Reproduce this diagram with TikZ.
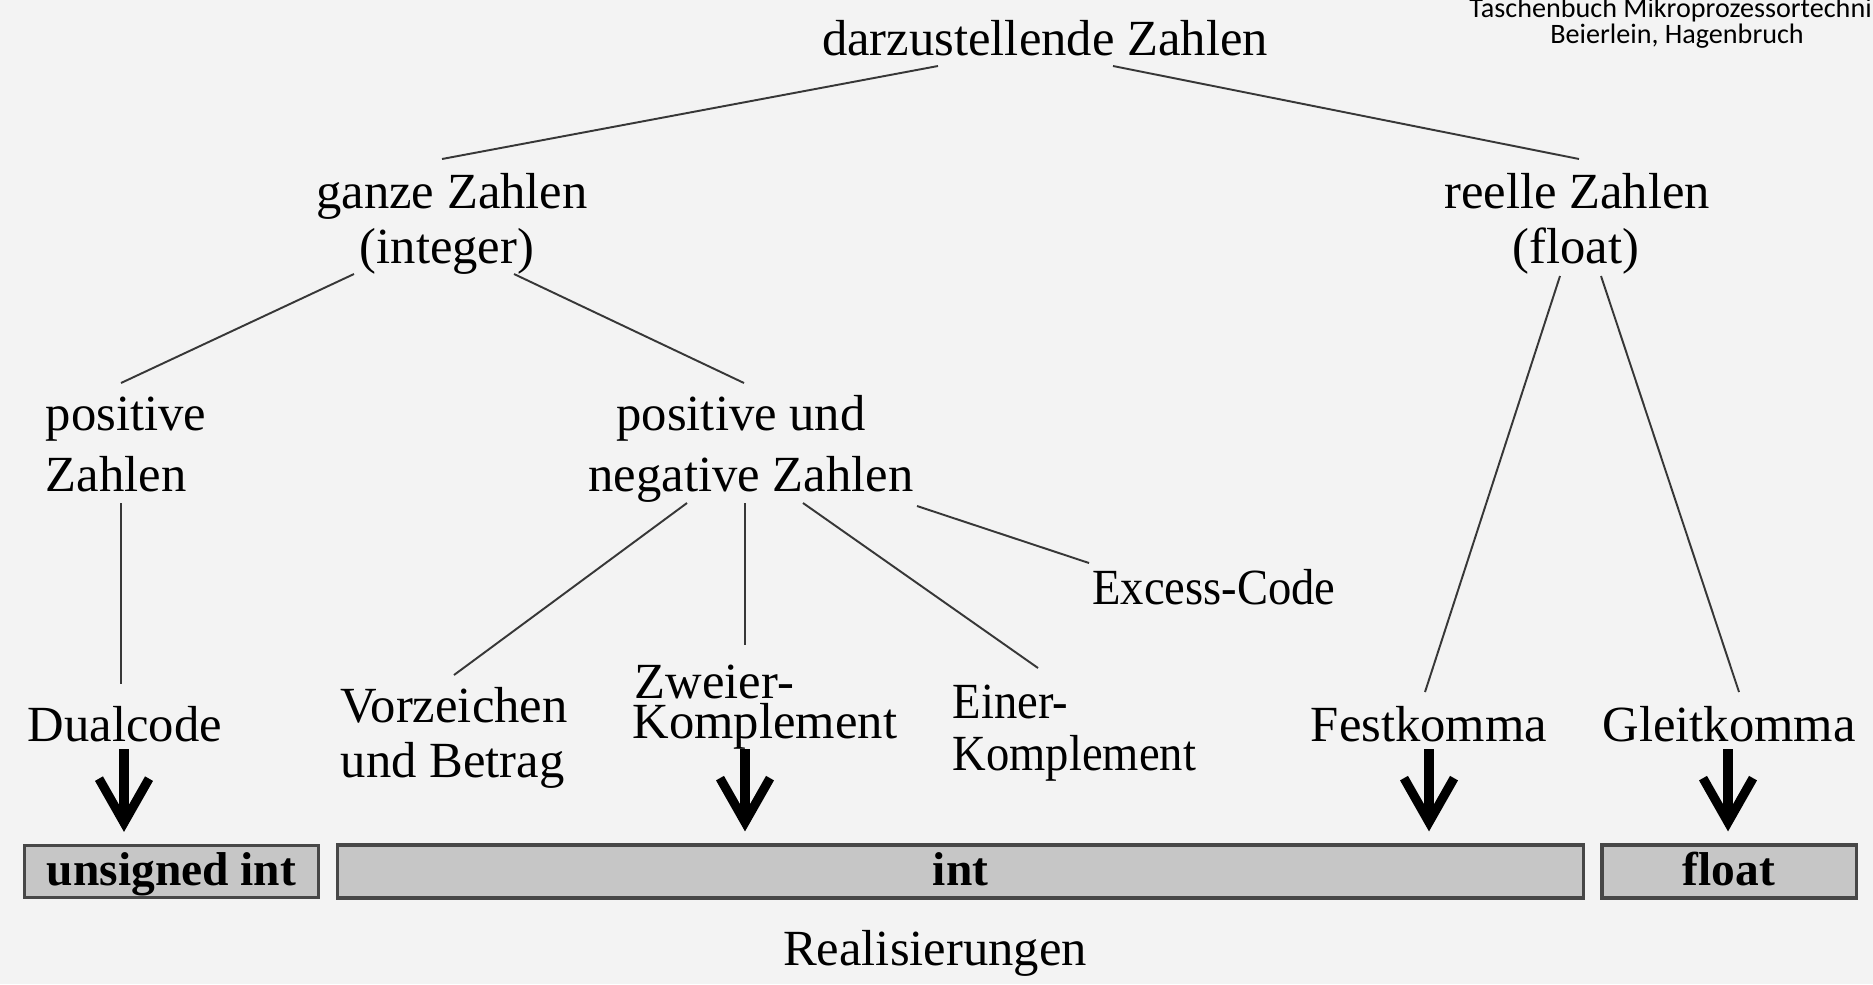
\documentclass[tikz,border=0pt]{standalone}
\usepackage{fontspec}
\setmainfont{Liberation Serif}
\newfontfamily\narrowfont[FakeStretch=0.92]{Liberation Serif}
\newfontfamily\notefont{Carlito}
\usetikzlibrary{arrows.meta}
\definecolor{bgc}{RGB}{243,243,243}
\definecolor{barfill}{RGB}{198,198,198}
\definecolor{linec}{RGB}{55,55,55}
\begin{document}
\begin{tikzpicture}[x=0.01cm,y=-0.01cm,
  lbl/.style={inner sep=0pt, font=\fontsize{14.4}{17}\selectfont, anchor=base},
  lbll/.style={lbl, anchor=base west},
  nlbl/.style={lbl, font=\narrowfont\fontsize{14.4}{17}\selectfont},
  nlbll/.style={nlbl, anchor=base west},
  conn/.style={draw=linec, line width=0.55pt},
  bigarrow/.style={line width=2.6pt, -{Straight Barb[length=4.4mm,width=5mm]}},
  barbox/.style={draw=black!72, line width=0.9pt, fill=barfill, inner sep=0pt,
    text height=0.95em, text depth=0.15em, font=\bfseries\fontsize{13.5}{16}\selectfont},
  note/.style={inner sep=0pt, anchor=base, font=\notefont\fontsize{8}{9}\selectfont}]
\fill[bgc] (0,0) rectangle (1873,984);
\clip (0,0) rectangle (1873,984);
% source note
\node[note] (n1) at (1677,17) {Taschenbuch Mikroprozessortechnik};
\node[note] (n2) at (1677,43) {Beierlein, Hagenbruch};
% texts
\node[lbl] (top) at (1045,55) {darzustellende Zahlen};
\node[lbl] (ganze1) at (452,208) {ganze Zahlen};
\node[lbl] (ganze2) at (447,263) {(integer)};
\node[lbl] (reell1) at (1577,208) {reelle Zahlen};
\node[lbl] (reell2) at (1576,263) {(float)};
\node[lbll] (pos1) at (45,430) {positive};
\node[lbll] (pos2) at (45,491) {Zahlen};
\node[lbl] (pn1) at (741,430) {positive und};
\node[lbl] (pn2) at (751,491) {negative Zahlen};
\node[nlbl] (exc) at (1214,604) {Excess-Code};
\node[lbl] (dual) at (125,741) {Dualcode};
\node[lbll] (vz1) at (340,722) {Vorzeichen};
\node[lbll] (vz2) at (340,777) {und Betrag};
\node[lbll] (zw1) at (634,698) {Zweier-};
\node[lbll] (zw2) at (632,738) {Komplement};
\node[nlbll] (ei1) at (952,718) {Einer-};
\node[nlbll] (ei2) at (952,770) {Komplement};
\node[lbl] (fest) at (1429,741) {Festkomma};
\node[lbl] (gleit) at (1729,741) {Gleitkomma};
\node[lbl] (real) at (935,965) {Realisierungen};
% bars
\node[barbox, minimum width=2.93cm, minimum height=0.52cm] (barU) at (171.5,871.5) {unsigned int};
\node[barbox, minimum width=12.45cm, minimum height=0.53cm] (barI) at (960.5,871.5) {int};
\node[barbox, minimum width=2.54cm, minimum height=0.53cm] (barF) at (1729,871.5) {float};
% connector end points
\coordinate (t-l) at (938,66);   \coordinate (g-t) at (442,159);
\coordinate (t-r) at (1113,66);  \coordinate (r-t) at (1579,159);
\coordinate (g-l) at (354,274);  \coordinate (p-t) at (121,383);
\coordinate (g-r) at (514,274);  \coordinate (pn-t) at (744,383);
\coordinate (r-l) at (1560,276); \coordinate (f-t) at (1425,692);
\coordinate (r-r) at (1601,276); \coordinate (gl-t) at (1739,692);
\coordinate (p-b) at (121,503);  \coordinate (d-t) at (121,684);
\coordinate (pn-a) at (687,503); \coordinate (vz-t) at (454,675);
\coordinate (pn-b) at (745,503); \coordinate (zw-t) at (745,645);
\coordinate (pn-c) at (803,503); \coordinate (ei-t) at (1038,668);
\coordinate (pn-d) at (917,506); \coordinate (ex-t) at (1089,563);
\draw[conn] (t-l) -- (g-t);
\draw[conn] (t-r) -- (r-t);
\draw[conn] (g-l) -- (p-t);
\draw[conn] (g-r) -- (pn-t);
\draw[conn] (r-l) -- (f-t);
\draw[conn] (r-r) -- (gl-t);
\draw[conn] (p-b) -- (d-t);
\draw[conn] (pn-a) -- (vz-t);
\draw[conn] (pn-b) -- (zw-t);
\draw[conn] (pn-c) -- (ei-t);
\draw[conn] (pn-d) -- (ex-t);
% arrows
\coordinate (dA) at (124,749);
\coordinate (zA) at (745,749);
\coordinate (fA) at (1429,749);
\coordinate (gA) at (1728,749);
\draw[bigarrow] (dA) -- ([yshift=1.2mm]dA |- barU.north);
\draw[bigarrow] (zA) -- ([yshift=1.2mm]zA |- barI.north);
\draw[bigarrow] (fA) -- ([yshift=1.2mm]fA |- barI.north);
\draw[bigarrow] (gA) -- ([yshift=1.2mm]gA |- barF.north);
\end{tikzpicture}
\end{document}
